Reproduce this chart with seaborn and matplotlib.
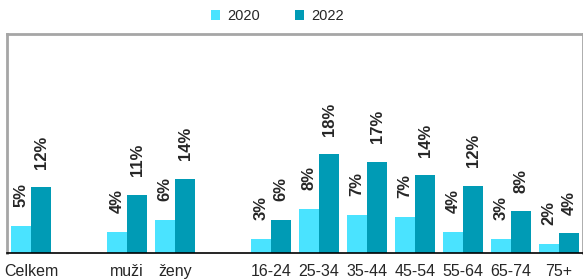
import pandas as pd
import matplotlib.pyplot as plt
import seaborn as sns

# categories ("" slots are the empty gaps between groups)
categories = ["Celkem", " ", "muži", "ženy", "  ", "16-24", "25-34", "35-44", "45-54", "55-64", "65-74", "75+"]
shown = ["Celkem", "muži", "ženy", "16-24", "25-34", "35-44", "45-54", "55-64", "65-74", "75+"]
years = ["2020", "2022"]
values_2020 = [5.0, 3.8, 6.0, 2.6, 8.0, 6.9, 6.6, 3.8, 2.6, 1.6]
values_2022 = [12.0, 10.6, 13.6, 6.0, 18.0, 16.6, 14.2, 12.2, 7.6, 3.6]
colors = ["#4ae3ff", "#009bb5"]


def main():
    df = pd.DataFrame({
        "kat": shown * 2,
        "rok": ["2020"] * len(shown) + ["2022"] * len(shown),
        "val": values_2020 + values_2022,
    })

    sns.set_style("white")
    plt.rcParams["font.family"] = ["Liberation Sans", "DejaVu Sans"]

    fig = plt.figure(figsize=(5.83, 2.79), dpi=100)
    ax = fig.add_axes([7 / 583, 26 / 279, 576 / 583, 219 / 279])

    sns.barplot(data=df, x="kat", y="val", hue="rok", order=categories, hue_order=years,
                palette=colors, width=0.84, linewidth=0, saturation=1, ax=ax)

    # labels above bars
    for cont in ax.containers:
        for bar in cont:
            h = bar.get_height()
            if h != h:  # nan for the empty slots
                continue
            ax.annotate("%d%%" % int(h + 0.5), xy=(bar.get_x() + bar.get_width() / 2, h),
                        xytext=(0, 13.5), textcoords="offset points", rotation=90,
                        ha="center", va="bottom", fontsize=12, fontweight="bold")

    ax.set_xlim(-0.5, len(categories) - 0.5)
    ax.set_ylim(0, 40)
    ax.set_xlabel("")
    ax.set_ylabel("")
    ax.set_yticks([])

    # tick marks between categories, labels in the middle
    ax.set_xticks(range(len(categories)))
    ax.set_xticklabels(categories, fontsize=11.5)
    ax.set_xticks([i - 0.5 for i in range(len(categories) + 1)], minor=True)
    ax.tick_params(axis="x", which="major", length=0, pad=8)
    ax.tick_params(axis="x", which="minor", length=4, width=1, color="black", direction="out")

    for side in ["left", "top", "right"]:
        ax.spines[side].set_color("#a6a6a6")
        ax.spines[side].set_linewidth(2)
    ax.spines["bottom"].set_color("black")
    ax.spines["bottom"].set_linewidth(1.2)

    ax.legend(loc="lower center", bbox_to_anchor=(0.47, 1.0), ncol=2, frameon=False,
              fontsize=10.5, handlelength=0.6, handleheight=0.6, columnspacing=2.4,
              handletextpad=0.5, borderaxespad=0.35)

    fig.savefig("out.png", dpi=100)
    plt.close()


if __name__ == "__main__":
    main()
